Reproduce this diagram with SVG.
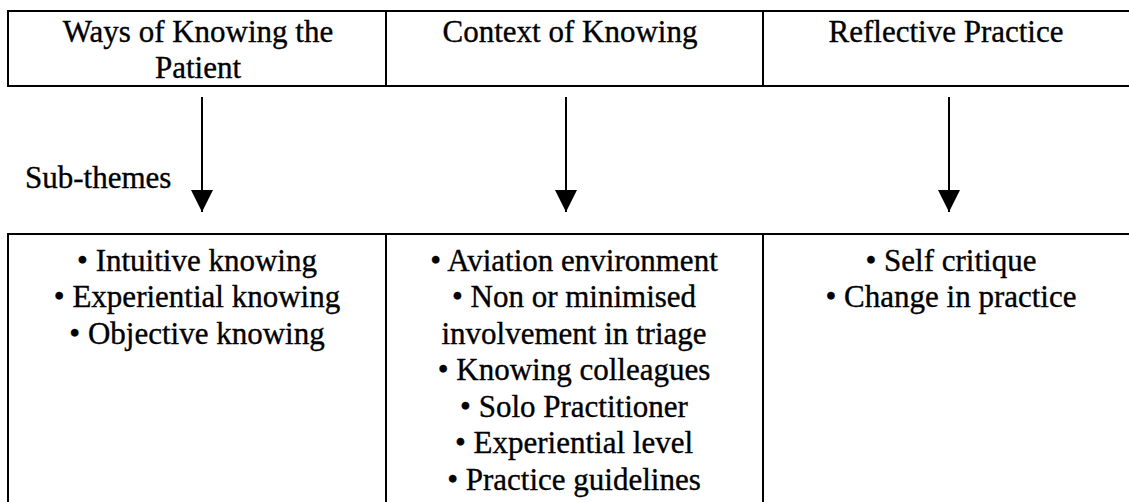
<svg xmlns="http://www.w3.org/2000/svg" width="1129" height="502" viewBox="0 0 1129 502">
<defs>
<style>
.t{font-family:"Liberation Serif","Times New Roman",serif;font-size:31px;fill:#000;stroke:#000;stroke-width:0.35;text-anchor:middle}
.l{text-anchor:start}
.b{fill:none;stroke:#000;stroke-width:2}
.c{stroke:#000;stroke-width:2;fill:none}
</style>
<marker id="ah" markerUnits="userSpaceOnUse" markerWidth="22" markerHeight="22" viewBox="0 0 20 20" refX="20" refY="10" orient="auto">
<path d="M0,0 L20,10 L0,20 Z" fill="#000"/>
</marker>
</defs>
<rect width="1129" height="502" fill="#fff"/>
<g id="header-table">
<rect class="b" x="8" y="11" width="1130" height="75"/>
<line class="b" x1="386" y1="11" x2="386" y2="86"/>
<line class="b" x1="763" y1="11" x2="763" y2="86"/>
</g>
<g id="node-ways">
<text class="t" x="198" y="42">Ways of Knowing the</text>
<text class="t" x="198" y="78">Patient</text>
</g>
<g id="node-context">
<text class="t" x="570" y="42">Context of Knowing</text>
</g>
<g id="node-reflective">
<text class="t" x="946" y="42">Reflective Practice</text>
</g>
<g id="label-subthemes">
<text class="t l" x="25" y="188">Sub-themes</text>
</g>
<g id="connectors">
<line class="c" x1="202" y1="97" x2="202" y2="212" marker-end="url(#ah)"/>
<line class="c" x1="566" y1="97" x2="566" y2="212" marker-end="url(#ah)"/>
<line class="c" x1="949" y1="97" x2="949" y2="212" marker-end="url(#ah)"/>
</g>
<g id="subtheme-table">
<rect class="b" x="8" y="234" width="1130" height="280"/>
<line class="b" x1="386" y1="234" x2="386" y2="510"/>
<line class="b" x1="763" y1="234" x2="763" y2="510"/>
</g>
<g id="node-ways-sub">
<text class="t" x="197" y="271">• Intuitive knowing</text>
<text class="t" x="197" y="307">• Experiential knowing</text>
<text class="t" x="197" y="344">• Objective knowing</text>
</g>
<g id="node-context-sub">
<text class="t" x="574" y="271">• Aviation environment</text>
<text class="t" x="574" y="307">• Non or minimised</text>
<text class="t" x="574" y="344">involvement in triage</text>
<text class="t" x="574" y="380">• Knowing colleagues</text>
<text class="t" x="574" y="417">• Solo Practitioner</text>
<text class="t" x="574" y="453">• Experiential level</text>
<text class="t" x="574" y="490">• Practice guidelines</text>
</g>
<g id="node-reflective-sub">
<text class="t" x="951" y="271">• Self critique</text>
<text class="t" x="951" y="307">• Change in practice</text>
</g>
</svg>
